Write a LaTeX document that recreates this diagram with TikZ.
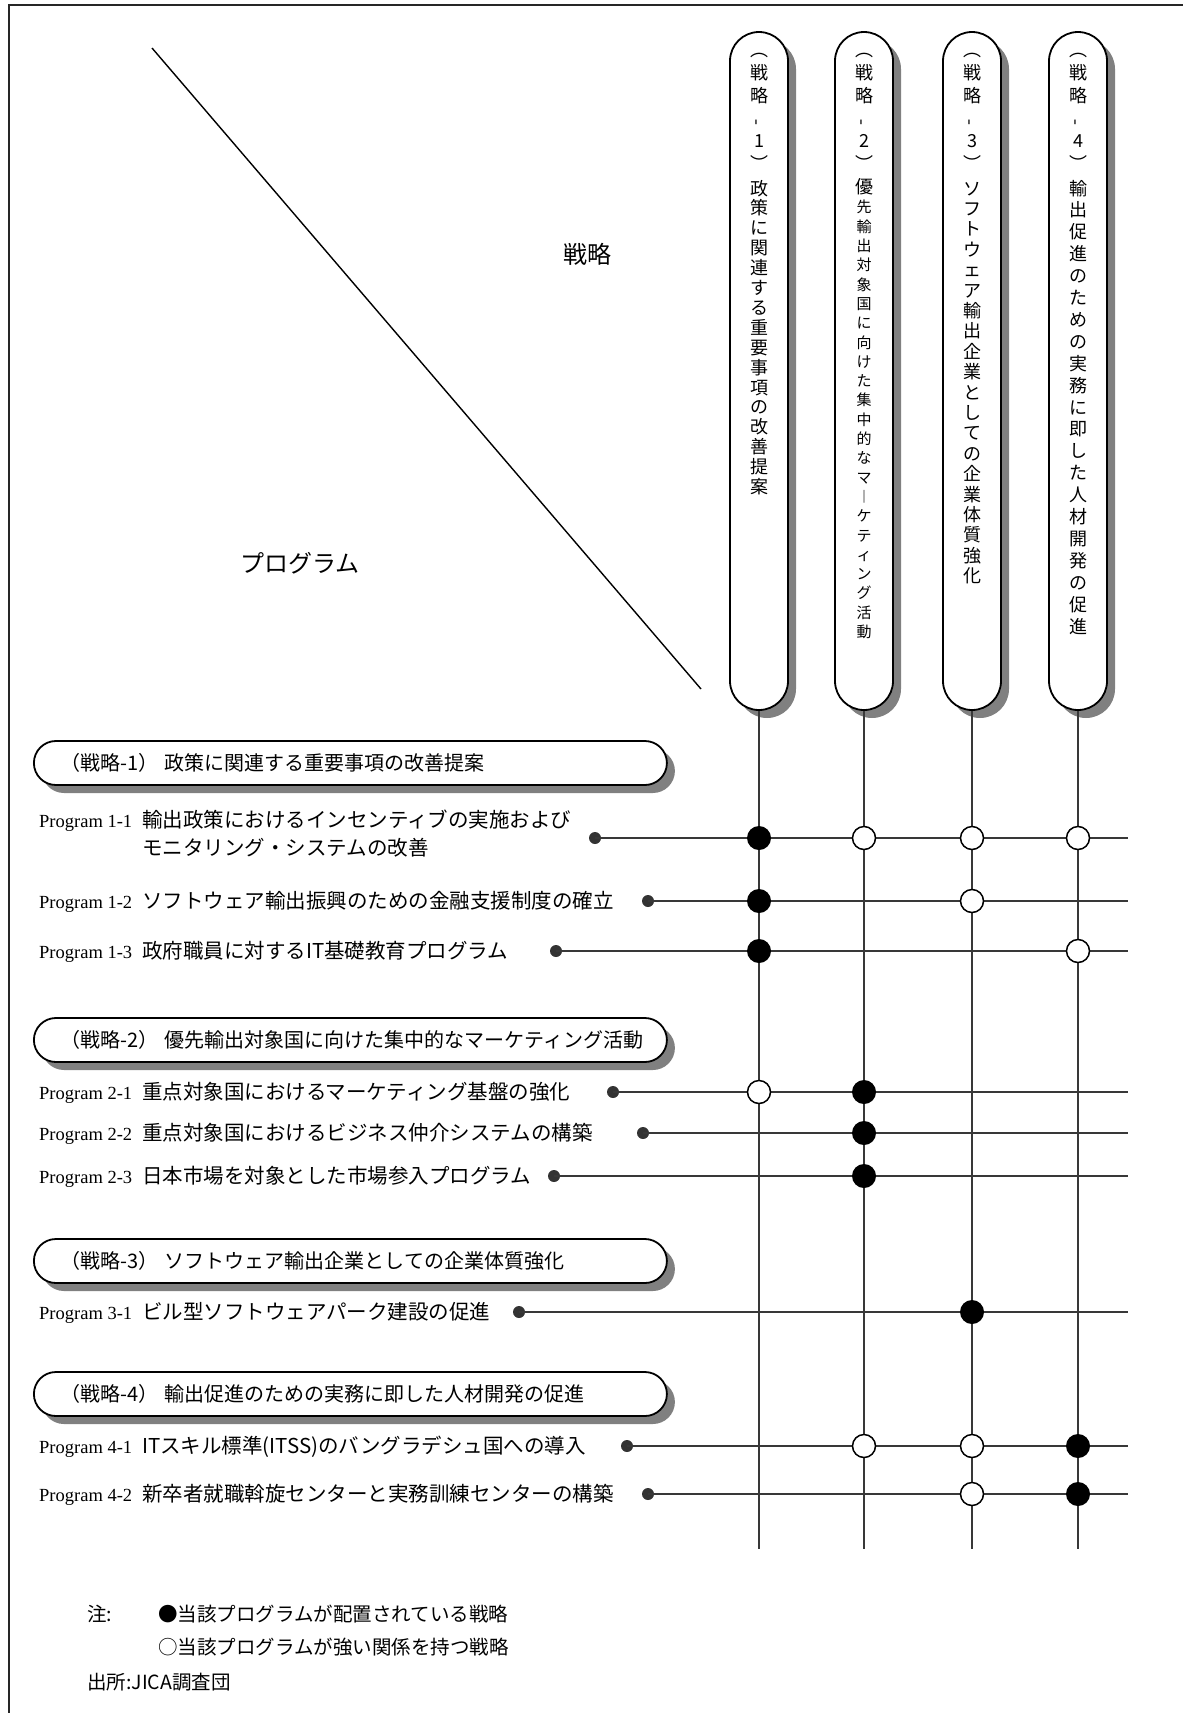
\documentclass[tikz,border=0pt]{standalone}
\usepackage{fontspec}
\setmainfont{Liberation Serif}
\newfontfamily\jp{Noto Sans CJK JP}
\usetikzlibrary{shadows}
\newcommand\vhy{\rotatebox{90}{-}}
\begin{document}
\begin{tikzpicture}[x=1pt,y=-1pt,
  gline/.style={line width=2pt, draw=black!78},
  frameline/.style={line width=2pt, draw=black!85},
  diagline/.style={line width=1.4pt, draw=black},
  pshadow/.style={drop shadow={shadow xshift=8pt, shadow yshift=-8pt, fill=black!50, opacity=1}},
  vpill/.style={draw=black, line width=1.8pt, fill=white, rounded corners=29pt, minimum width=58pt, minimum height=678pt, inner sep=0pt, pshadow},
  hpill/.style={draw=black, line width=1.8pt, fill=white, rounded corners=22pt, minimum height=44pt, text width=579pt, inner xsep=27pt, inner ysep=0pt, align=left, anchor=west, font=\jp\fontsize{20}{24}\selectfont, pshadow},
  vtext/.style={inner sep=0pt, anchor=north, align=center, text width=30pt},
  vtop/.style={vtext, font=\jp\fontsize{18}{23}\selectfont},
  plat/.style={anchor=base west, inner sep=0pt, font=\fontsize{18.5}{22}\selectfont},
  pjp/.style={anchor=base west, inner sep=0pt, font=\jp\fontsize{20.5}{24}\selectfont},
  rowdot/.style={circle, fill=black!80, minimum size=12pt, inner sep=0pt},
  fullc/.style={circle, fill=black, minimum size=24pt, inner sep=0pt},
  openc/.style={circle, draw=black, line width=1.5pt, fill=white, minimum size=23pt, inner sep=0pt},
  bigjp/.style={font=\jp\fontsize{24}{28}\selectfont, inner sep=0pt},
  notetext/.style={anchor=base west, inner sep=0pt, font=\jp\fontsize{19.5}{23}\selectfont}]

\useasboundingbox (0,0) rectangle (1183,1713);

% frame
\coordinate (fa) at (9,1720);
\coordinate (fb) at (9,5);
\coordinate (fc) at (1190,5);
\draw[frameline] (fa) -- (fb) -- (fc);

% diagonal and corner labels
\coordinate (dga) at (152,48);
\coordinate (dgb) at (701,689);
\draw[diagline] (dga) -- (dgb);
\node[bigjp] (lblS) at (587,254) {戦略};
\node[bigjp] (lblP) at (300,563) {プログラム};

% vertical strategy pills
\node[vpill] (v1) at (759,371) {};
\node[vpill] (v2) at (864,371) {};
\node[vpill] (v3) at (972,371) {};
\node[vpill] (v4) at (1078,371) {};

\node[vtop] (vt1a) at (759,39.8) {\rule{0pt}{16pt}︵\\戦\\略\\\vhy\\1\\︶};
\node[vtext, font=\jp\fontsize{18}{19.9}\selectfont] (vt1b) at (759,178.8)
 {\rule{0pt}{16pt}政\\策\\に\\関\\連\\す\\る\\重\\要\\事\\項\\の\\改\\善\\提\\案};
\node[vtop] (vt2a) at (864,39.8) {\rule{0pt}{16pt}︵\\戦\\略\\\vhy\\2\\︶\\優};
\node[vtext, font=\jp\fontsize{15}{19.3}\selectfont] (vt2b) at (864,199.2)
 {\rule{0pt}{13.5pt}先\\輸\\出\\対\\象\\国\\に\\向\\け\\た\\集\\中\\的\\な\\マ\\︱\\ケ\\テ\\ィ\\ン\\グ\\活\\動};
\node[vtop] (vt3a) at (972,39.8) {\rule{0pt}{16pt}︵\\戦\\略\\\vhy\\3\\︶};
\node[vtext, font=\jp\fontsize{18}{20.4}\selectfont] (vt3b) at (972,178.8)
 {\rule{0pt}{16pt}ソ\\フ\\ト\\ウ\\ェ\\ア\\輸\\出\\企\\業\\と\\し\\て\\の\\企\\業\\体\\質\\強\\化};
\node[vtop] (vt4a) at (1078,39.8) {\rule{0pt}{16pt}︵\\戦\\略\\\vhy\\4\\︶};
\node[vtext, font=\jp\fontsize{18}{21.9}\selectfont] (vt4b) at (1078,178.8)
 {\rule{0pt}{16pt}輸\\出\\促\\進\\の\\た\\め\\の\\実\\務\\に\\即\\し\\た\\人\\材\\開\\発\\の\\促\\進};

% vertical lines
\coordinate (b1) at (759,1549);
\coordinate (b2) at (864,1549);
\coordinate (b3) at (972,1549);
\coordinate (b4) at (1078,1549);
\draw[gline] (v1.south) -- (b1);
\draw[gline] (v2.south) -- (b2);
\draw[gline] (v3.south) -- (b3);
\draw[gline] (v4.south) -- (b4);

% horizontal strategy pills
\node[hpill] (s1) at (33,763) {（戦略-1）\hspace{6pt}政策に関連する重要事項の改善提案};
\node[hpill] (s2) at (33,1040) {（戦略-2）\hspace{6pt}優先輸出対象国に向けた集中的なマーケティング活動};
\node[hpill] (s3) at (33,1261) {（戦略-3）\hspace{6pt}ソフトウェア輸出企業としての企業体質強化};
\node[hpill] (s4) at (33,1394) {（戦略-4）\hspace{6pt}輸出促進のための実務に即した人材開発の促進};

% program texts
\node[plat] (t11) at (39,827) {Program 1-1};
\node[pjp] (j11) at (142,827) {輸出政策におけるインセンティブの実施および};
\node[pjp] (j11b) at (142,855) {モニタリング・システムの改善};
\node[plat] (t12) at (39,908) {Program 1-2};
\node[pjp] (j12) at (142,908) {ソフトウェア輸出振興のための金融支援制度の確立};
\node[plat] (t13) at (39,958) {Program 1-3};
\node[pjp] (j13) at (142,958) {政府職員に対するIT基礎教育プログラム};
\node[plat] (t21) at (39,1099) {Program 2-1};
\node[pjp] (j21) at (142,1099) {重点対象国におけるマーケティング基盤の強化};
\node[plat] (t22) at (39,1140) {Program 2-2};
\node[pjp] (j22) at (142,1140) {重点対象国におけるビジネス仲介システムの構築};
\node[plat] (t23) at (39,1183) {Program 2-3};
\node[pjp] (j23) at (142,1183) {日本市場を対象とした市場参入プログラム};
\node[plat] (t31) at (39,1319) {Program 3-1};
\node[pjp] (j31) at (142,1319) {ビル型ソフトウェアパーク建設の促進};
\node[plat] (t41) at (39,1453) {Program 4-1};
\node[pjp] (j41) at (142,1453) {ITスキル標準(ITSS)のバングラデシュ国への導入};
\node[plat] (t42) at (39,1501) {Program 4-2};
\node[pjp] (j42) at (142,1501) {新卒者就職斡旋センターと実務訓練センターの構築};

% row dots, ends and lines
\node[rowdot] (d11) at (595,838) {};
\node[rowdot] (d12) at (648,901) {};
\node[rowdot] (d13) at (556,951) {};
\node[rowdot] (d21) at (613,1092) {};
\node[rowdot] (d22) at (643,1133) {};
\node[rowdot] (d23) at (554,1176) {};
\node[rowdot] (d31) at (519,1312) {};
\node[rowdot] (d41) at (627,1446) {};
\node[rowdot] (d42) at (648,1494) {};
\coordinate (e11) at (1128,838);
\coordinate (e12) at (1128,901);
\coordinate (e13) at (1128,951);
\coordinate (e21) at (1128,1092);
\coordinate (e22) at (1128,1133);
\coordinate (e23) at (1128,1176);
\coordinate (e31) at (1128,1312);
\coordinate (e41) at (1128,1446);
\coordinate (e42) at (1128,1494);
\draw[gline] (d11.center) -- (e11);
\draw[gline] (d12.center) -- (e12);
\draw[gline] (d13.center) -- (e13);
\draw[gline] (d21.center) -- (e21);
\draw[gline] (d22.center) -- (e22);
\draw[gline] (d23.center) -- (e23);
\draw[gline] (d31.center) -- (e31);
\draw[gline] (d41.center) -- (e41);
\draw[gline] (d42.center) -- (e42);

% intersection marks
\node[fullc] (m11a) at (759,838) {};
\node[openc] (m11b) at (864,838) {};
\node[openc] (m11c) at (972,838) {};
\node[openc] (m11d) at (1078,838) {};
\node[fullc] (m12a) at (759,901) {};
\node[openc] (m12c) at (972,901) {};
\node[fullc] (m13a) at (759,951) {};
\node[openc] (m13d) at (1078,951) {};
\node[openc] (m21a) at (759,1092) {};
\node[fullc] (m21b) at (864,1092) {};
\node[fullc] (m22b) at (864,1133) {};
\node[fullc] (m23b) at (864,1176) {};
\node[fullc] (m31c) at (972,1312) {};
\node[openc] (m41b) at (864,1446) {};
\node[openc] (m41c) at (972,1446) {};
\node[fullc] (m41d) at (1078,1446) {};
\node[openc] (m42c) at (972,1494) {};
\node[fullc] (m42d) at (1078,1494) {};

% notes
\node[notetext] (n1a) at (87,1621) {注:};
\node[notetext] (n1b) at (158,1621) {●当該プログラムが配置されている戦略};
\node[notetext] (n2) at (158,1654) {○当該プログラムが強い関係を持つ戦略};
\node[notetext] (n3) at (87,1689) {出所:JICA調査団};
\end{tikzpicture}
\end{document}
